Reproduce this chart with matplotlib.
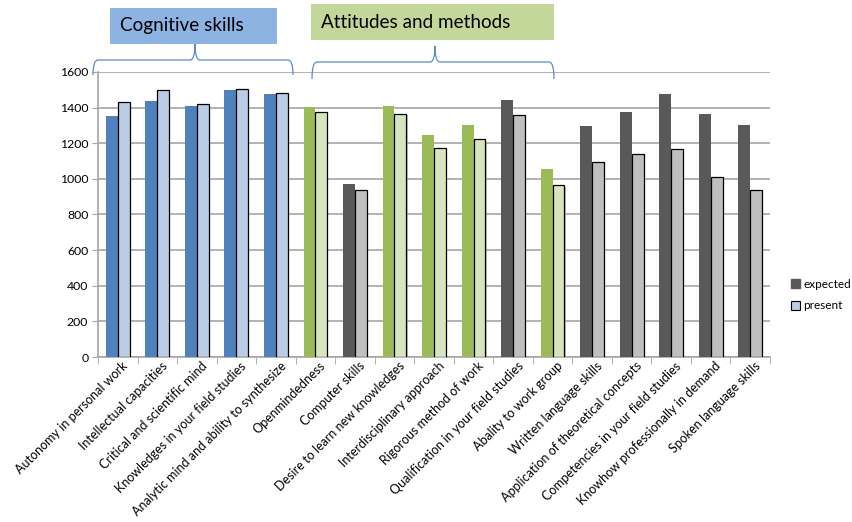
import numpy as np
from matplotlib import pyplot as plt
from matplotlib.patches import Rectangle, PathPatch
from matplotlib.path import Path

plt.rcParams['font.family'] = ['Lato', 'DejaVu Sans']

# Data
categories = ["Autonomy in personal work", "Intellectual capacities",
              "Critical and scientific mind", "Knowledges in your field studies",
              "Analytic mind and ability to synthesize", "Openmindedness",
              "Computer skills", "Desire to learn new knowledges",
              "Interdisciplinary approach", "Rigorous method of work",
              "Qualification in your field studies", "Abality to work group",
              "Written language skills", "Application of theoretical concepts",
              "Competencies in your field studies", "Knowhow professionally in demand",
              "Spoken language skills"]
expected = [1354, 1439, 1411, 1501, 1478, 1405, 972, 1411, 1248, 1304,
            1445, 1056, 1295, 1377, 1475, 1366, 1304]
present = [1431, 1499, 1420, 1505, 1482, 1375, 938, 1366, 1173, 1223,
           1358, 964, 1092, 1137, 1169, 1009, 938]
# group of each category: c = cognitive, a = attitudes, o = other
groups = ["c", "c", "c", "c", "c", "a", "o", "a", "a", "a", "o", "a",
          "o", "o", "o", "o", "o"]

EXPCOLOR = {"c": "#4F81BD", "a": "#9BBB59", "o": "#595959"}
PRESCOLOR = {"c": "#B9CDE5", "a": "#D7E4BD", "o": "#BFBFBF"}
GRIDCOLOR = "#A6A6A6"
BRACECOLOR = "#5B8CC8"
BARW = 0.3

W, H = 853, 522
fig = plt.figure(figsize=(W / 100, H / 100), dpi=100)
ax = fig.add_axes([98 / W, 1 - 357 / H, (770 - 98) / W, (357 - 72) / H])

x = np.arange(len(categories))
for i in x:
    g = groups[i]
    ax.bar(i - BARW / 2, expected[i], width=BARW, color=EXPCOLOR[g], zorder=3)
    # light shadow behind the present bars
    ax.bar(i + BARW / 2 + 0.03, present[i] - 8, width=BARW, color="#9A9A9A",
           alpha=0.6, zorder=2.5)
    ax.bar(i + BARW / 2, present[i], width=BARW, color=PRESCOLOR[g],
           edgecolor="black", linewidth=0.9, zorder=3)

ax.set_xlim(-0.5, len(categories) - 0.5)
ax.set_ylim(0, 1600)
ax.set_yticks(np.arange(0, 1601, 200))
ax.yaxis.grid(True, color=GRIDCOLOR, linewidth=1.2, zorder=0)
ax.set_axisbelow(True)

ax.set_xticks(x + 0.1)
ax.set_xticklabels(categories, rotation=45, ha="right", rotation_mode="anchor",
                   fontsize=9)
ax.set_xticks(np.arange(-0.5, len(categories), 1), minor=True)
ax.tick_params(axis="x", which="major", length=0, pad=2)
ax.tick_params(axis="x", which="minor", length=5, color=GRIDCOLOR, direction="out")
ax.tick_params(axis="y", labelsize=8.8, length=4, color=GRIDCOLOR, pad=3)

for side in ["top", "right"]:
    ax.spines[side].set_visible(False)
for side in ["left", "bottom"]:
    ax.spines[side].set_color(GRIDCOLOR)
    ax.spines[side].set_linewidth(1.2)

# Legend
h1 = Rectangle((0, 0), 1, 1, facecolor="#595959", edgecolor="#595959")
h2 = Rectangle((0, 0), 1, 1, facecolor="#B9CDE5", edgecolor="black", linewidth=0.8)
fig.legend([h1, h2], ["expected", "present"], loc="center left",
           bbox_to_anchor=(783 / W, 1 - 295 / H), frameon=False, fontsize=8.5,
           handlelength=0.75, handleheight=0.75, handletextpad=0.25,
           labelspacing=0.9, borderpad=0.2)


# Curly braces in pixel coordinates (y downwards)
def brace(x0, x1, xm, yh, ytip, yend):
    r = 5
    pts = [(x0, yend), (x0, yh), (x0 + r, yh),
           (xm - r, yh), (xm, yh), (xm, ytip),
           (xm, yh), (xm + r, yh),
           (x1 - r, yh), (x1, yh), (x1, yend)]
    codes = [Path.MOVETO, Path.CURVE3, Path.CURVE3,
             Path.LINETO, Path.CURVE3, Path.CURVE3,
             Path.CURVE3, Path.CURVE3,
             Path.LINETO, Path.CURVE3, Path.CURVE3]
    pts = [(px / W, 1 - py / H) for px, py in pts]
    fig.patches.append(PathPatch(Path(pts, codes), transform=fig.transFigure,
                                 facecolor="none", edgecolor=BRACECOLOR,
                                 linewidth=0.9))


brace(93, 293, 195, 60, 44, 75)
brace(312, 554, 435, 62, 46, 79)


# Group title boxes
def title_box(x0, y0, x1, y1, text, color):
    fig.patches.append(Rectangle((x0 / W, 1 - y1 / H), (x1 - x0) / W, (y1 - y0) / H,
                                 transform=fig.transFigure, facecolor=color,
                                 edgecolor="none"))
    fig.text((x0 + 10) / W, 1 - (y0 + y1) / 2 / H, text, fontsize=13.6,
             va="center", ha="left")


title_box(110, 8, 277, 44, "Cognitive skills", "#8DB3E2")
title_box(311, 4, 554, 40, "Attitudes and methods", "#C4D79B")

fig.savefig("out.png", dpi=100)
